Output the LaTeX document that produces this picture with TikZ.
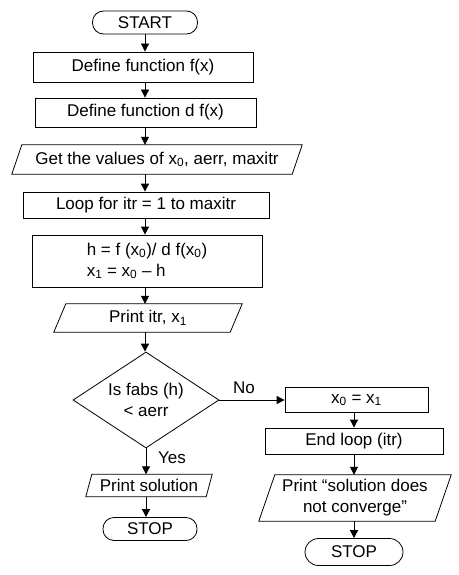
\documentclass[tikz,border=0pt]{standalone}
\usepackage{fontspec}
\setmainfont{Liberation Sans}
\usetikzlibrary{arrows.meta,shapes.geometric,calc}
\tikzset{
  base/.style={inner sep=0pt, font=\fontsize{17}{21}\selectfont, align=center},
  procbox/.style={base, draw, line width=0.8pt, rectangle},
  termbox/.style={base, draw, line width=0.8pt, rectangle, rounded corners=11pt},
  iobox/.style={base, rectangle},
  decbox/.style={base, draw, line width=0.8pt, diamond, aspect=1.52},
  lbl/.style={base},
  arr/.style={line width=0.8pt, -{Triangle[length=8pt,width=8pt]}},
  para/.style={line width=0.8pt, line join=miter}
}
\newcommand\paradraw[2]{\draw[para] ([xshift=#2]#1.north west) -- ([xshift=#2]#1.north east) -- ([xshift=-#2]#1.south east) -- ([xshift=-#2]#1.south west) -- cycle;}
\begin{document}
\begin{tikzpicture}[x=1pt,y=-1pt]
\useasboundingbox (0,0) rectangle (458,575);
% main column
\node[termbox, minimum width=105pt, minimum height=23pt] (start) at (145,22.5) {START};
\node[procbox, minimum width=220pt, minimum height=30pt] (f1) at (143,67) {Define function f(x)};
\node[procbox, minimum width=221pt, minimum height=29pt] (f2) at (145.5,112.5) {Define function d f(x)};
\node[iobox, minimum width=280pt, minimum height=29pt] (get) at (157,159.5) {Get the values of x\textsubscript{0}, aerr, maxitr};
\paradraw{get}{5pt}
\node[procbox, minimum width=246pt, minimum height=26pt] (loop) at (146,205) {Loop for itr = 1 to maxitr};
\node[procbox, minimum width=230pt, minimum height=52pt, align=left] (calc) at (147,261) {h = f (x\textsubscript{0})/ d f(x\textsubscript{0})\\x\textsubscript{1} = x\textsubscript{0} -- h};
\node[iobox, minimum width=176pt, minimum height=28pt] (pitr) at (148,318) {Print itr, x\textsubscript{1}};
\paradraw{pitr}{6pt}
\node[decbox, minimum width=146pt, minimum height=96pt] (dec) at (146,400) {Is fabs (h)\\< aerr};
% left branch
\node[lbl, anchor=west] (yes) at (158,458) {Yes};
\node[iobox, minimum width=120pt, minimum height=22pt] (psol) at (149,485.5) {Print solution};
\paradraw{psol}{3pt}
\node[termbox, minimum width=94pt, minimum height=23pt] (stopL) at (150,529) {STOP};
% right branch
\node[lbl] (no) at (244,388) {No};
\node[procbox, minimum width=143pt, minimum height=25pt] (xz) at (356.5,400) {x\textsubscript{0} = x\textsubscript{1}};
\node[procbox, minimum width=178pt, minimum height=26pt] (endl) at (354,441) {End loop (itr)};
\node[iobox, minimum width=176pt, minimum height=46pt] (conv) at (355,498) {Print ``solution does\\not converge''};
\paradraw{conv}{8pt}
\node[termbox, minimum width=98pt, minimum height=27pt, rounded corners=13.5pt] (stopR) at (354,552) {STOP};
% connectors
\draw[arr] (start.south) -- (start.south |- f1.north);
\draw[arr] (start.south |- f1.south) -- (start.south |- f2.north);
\draw[arr] (start.south |- f2.south) -- (start.south |- get.north);
\draw[arr] (start.south |- get.south) -- (start.south |- loop.north);
\draw[arr] (start.south |- loop.south) -- (start.south |- calc.north);
\draw[arr] (start.south |- calc.south) -- (start.south |- pitr.north);
\draw[arr] (start.south |- pitr.south) -- (start.south |- dec.north);
\draw[arr] (dec.south) -- (dec.south |- psol.north);
\draw[arr] (dec.south |- psol.south) -- (dec.south |- stopL.north);
\draw[arr] (dec.east) -- (dec.east -| xz.west);
\draw[arr] (stopR.north |- xz.south) -- (stopR.north |- endl.north);
\draw[arr] (stopR.north |- endl.south) -- (stopR.north |- conv.north);
\draw[arr] (stopR.north |- conv.south) -- (stopR.north);
\end{tikzpicture}
\end{document}
